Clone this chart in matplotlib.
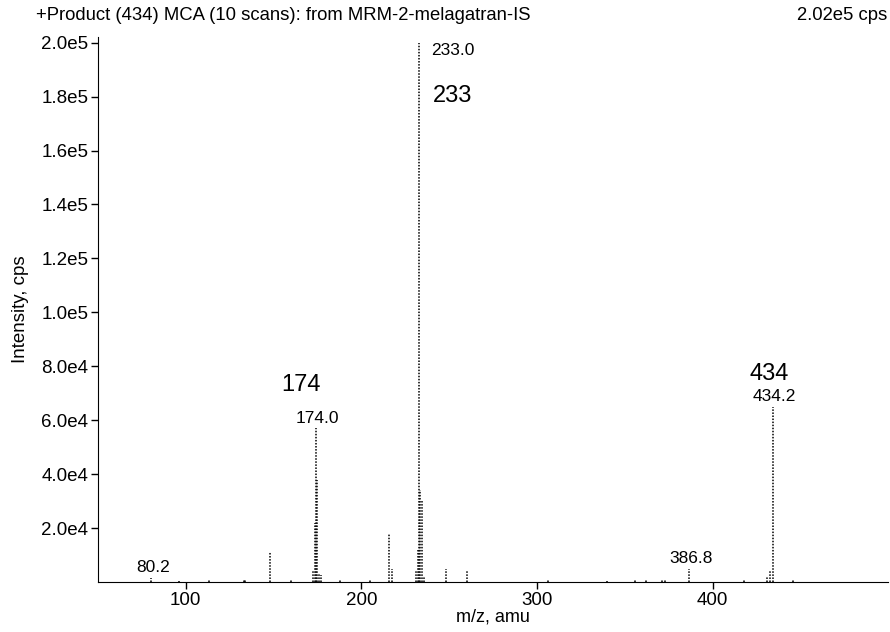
import matplotlib
matplotlib.use("Agg")
import matplotlib.pyplot as plt

plt.rcParams['font.family'] = ['Liberation Sans', 'DejaVu Sans']

mz = [80.2, 96, 113, 133, 134, 148, 160, 172.5, 173.5, 174.0, 174.6, 176, 177, 188, 205,
      216, 217.5, 231, 232, 233.0, 233.6, 234.4, 235.5, 248, 260, 306, 340, 356, 362, 371, 373,
      386.8, 418, 431, 432.5, 434.2, 446]
intensity = [1.5e3, 5e2, 8e2, 1e3, 8e2, 1.1e4, 8e2, 4.5e3, 2.2e4, 5.7e4, 3.8e4, 3e3, 2.5e3, 7e2, 1e3,
             1.8e4, 5e3, 4e3, 1.2e4, 2.0e5, 3.4e4, 3.0e4, 2e3, 5e3, 4.5e3, 8e2, 5e2, 1e3, 1e3, 8e2, 1.2e3,
             5e3, 8e2, 2e3, 4e3, 6.5e4, 1e3]

peak_labels = [(80.2, 1.5e3, "80.2"), (174.0, 5.7e4, "174.0"),
               (386.8, 5e3, "386.8"), (434.2, 6.5e4, "434.2")]
big_labels = [(165.5, 6.9e4, "174"), (241.0, 1.76e5, "233"), (432.0, 7.3e4, "434")]

xticks = [100, 200, 300, 400]
yticks = [2e4, 4e4, 6e4, 8e4, 1e5, 1.2e5, 1.4e5, 1.6e5, 1.8e5, 2.0e5]
ytick_labels = ["2.0e4", "4.0e4", "6.0e4", "8.0e4", "1.0e5", "1.2e5", "1.4e5", "1.6e5", "1.8e5", "2.0e5"]

fig = plt.figure(figsize=(8.9, 6.32), dpi=100)
ax = fig.add_axes([0.110, 0.079, 0.888, 0.862])

ax.vlines(mz, 0, intensity, colors='black', linestyles=(0, (1, 1)), linewidth=1.1)

for x, y, t in peak_labels:
    ax.annotate(t, (x, y), xytext=(1.5, 2), textcoords='offset points',
                ha='center', va='bottom', fontsize=12.5)
for x, y, t in big_labels:
    ax.text(x, y, t, ha='left' if t == "233" else 'center', va='bottom', fontsize=17)
ax.text(239.5, 2.0e5, "233.0", ha='left', va='top', fontsize=12.5)

ax.set_xlim(50, 500)
ax.set_ylim(0, 2.02e5)
ax.set_xticks(xticks)
ax.set_xticklabels([str(v) for v in xticks], fontsize=13.5)
ax.set_yticks(yticks)
ax.set_yticklabels(ytick_labels, fontsize=13.5)
ax.tick_params(direction='out', length=5, width=1, pad=2)
ax.spines['top'].set_visible(False)
ax.spines['right'].set_visible(False)
ax.set_xlabel("m/z, amu", fontsize=13, labelpad=0)
ax.set_ylabel("Intensity, cps", fontsize=13.5, labelpad=9)

fig.text(0.040, 0.975, "+Product (434) MCA (10 scans): from MRM-2-melagatran-IS", fontsize=13.3, ha='left', va='center')
fig.text(0.997, 0.975, "2.02e5 cps", fontsize=13.3, ha='right', va='center')

fig.savefig("out.png", dpi=100)
